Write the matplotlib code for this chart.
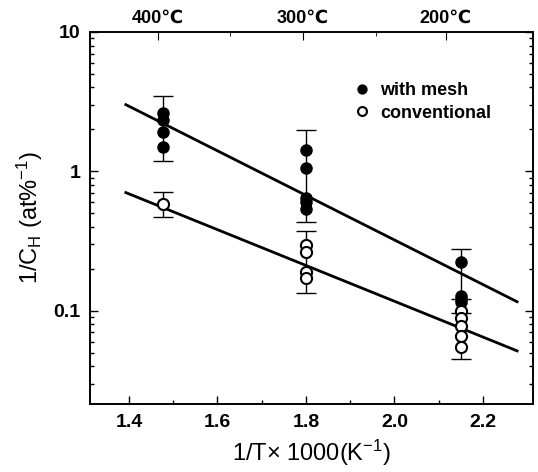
import matplotlib
matplotlib.use("Agg")
import matplotlib.pyplot as plt
from matplotlib.ticker import NullFormatter, LogLocator
import numpy as np

plt.rcParams['font.family'] = ['Liberation Sans', 'DejaVu Sans']
plt.rcParams['mathtext.fontset'] = 'custom'
plt.rcParams['mathtext.rm'] = 'Liberation Sans'
plt.rcParams['mathtext.it'] = 'Liberation Sans:italic'

# 1/T x 1000 positions of the three temperatures
x_temp = [1.477, 1.80, 2.15]
temp_labels = ['400\u2103', '300\u2103', '200\u2103']

# with mesh (filled)
mesh_x = [1.477, 1.477, 1.477, 1.477, 1.80, 1.80, 1.80, 1.80, 1.80, 2.15, 2.15, 2.15, 2.15]
mesh_y = [2.63, 2.34, 1.92, 1.49, 1.42, 1.05, 0.64, 0.60, 0.54, 0.223, 0.128, 0.122, 0.116]
mesh_lo = [1.18, 0.43, 0.096]
mesh_hi = [3.5, 1.98, 0.277]

# conventional (open)
conv_x = [1.477, 1.80, 1.80, 1.80, 1.80, 2.15, 2.15, 2.15, 2.15, 2.15]
conv_y = [0.586, 0.296, 0.263, 0.189, 0.173, 0.100, 0.089, 0.078, 0.066, 0.055]
conv_lo = [0.47, 0.133, 0.045]
conv_hi = [0.716, 0.373, 0.122]

# fitted lines (end points)
fit_x = [1.393, 2.277]
fit_mesh = [3.01, 0.116]
fit_conv = [0.704, 0.0515]

fig = plt.figure(figsize=(5.38, 4.72), dpi=100)
ax = fig.add_axes([90/538, 1-404/472, 443/538, 372/472])

def bars(xs, lo, hi):
    xs = np.array(xs); lo = np.array(lo); hi = np.array(hi)
    mid = np.sqrt(lo*hi)
    ax.errorbar(xs, mid, yerr=[mid-lo, hi-mid], fmt='none', ecolor='k',
                elinewidth=1, capsize=7, capthick=1)

bars(x_temp, mesh_lo, mesh_hi)
bars(x_temp, conv_lo, conv_hi)

ax.plot(fit_x, fit_mesh, 'k-', lw=2)
ax.plot(fit_x, fit_conv, 'k-', lw=2)

ax.plot(mesh_x, mesh_y, 'o', color='k', ms=8, label='with mesh', zorder=5)
ax.plot(conv_x, conv_y, 'o', mfc='white', mec='k', mew=1.5, ms=8,
        label='conventional', zorder=5)

ax.set_yscale('log')
ax.set_xlim(1.312, 2.313)
ax.set_ylim(0.0214, 10)
ax.set_xticks([1.4, 1.6, 1.8, 2.0, 2.2])
ax.set_xticks(np.arange(1.4, 2.3, 0.1), minor=True)
ax.set_yticks([0.1, 1, 10])
ax.set_yticklabels(['0.1', '1', '10'])
ax.yaxis.set_minor_locator(LogLocator(base=10, subs=np.arange(2, 10)))
ax.yaxis.set_minor_formatter(NullFormatter())

ax.tick_params(which='both', direction='in', right=True, labelsize=14)
ax.tick_params(which='major', length=6, width=1, pad=7)
ax.tick_params(which='minor', length=3, width=1)
ax.tick_params(axis='x', which='both', top=False)
for lab in ax.get_xticklabels() + ax.get_yticklabels():
    lab.set_fontweight('bold')

top = ax.twiny()
top.set_xlim(ax.get_xlim())
top.set_xticks([1.466, 1.793, 2.116])
top.set_xticklabels(temp_labels, fontweight='bold')
top.set_xticks([1.628, 1.958], minor=True)
top.tick_params(which='both', direction='in', labelsize=13, pad=4)
top.tick_params(which='major', length=6)
top.tick_params(which='minor', length=3)

for a in (ax, top):
    for s in a.spines.values():
        s.set_linewidth(1.2)

ax.set_xlabel('1/T\u00d7 1000(K$^{-1}$)', fontsize=17, labelpad=5)
ax.set_ylabel('1/C$_\\mathrm{H}$ (at%$^{-1}$)', fontsize=17, labelpad=6)

leg = ax.legend(loc='upper left', bbox_to_anchor=(0.578, 0.889), frameon=False,
                fontsize=13, handletextpad=0.6, labelspacing=0.3, markerscale=0.8,
                handlelength=0.8, borderpad=0)
for t in leg.get_texts():
    t.set_fontweight('bold')

fig.savefig('out.png', dpi=100)
